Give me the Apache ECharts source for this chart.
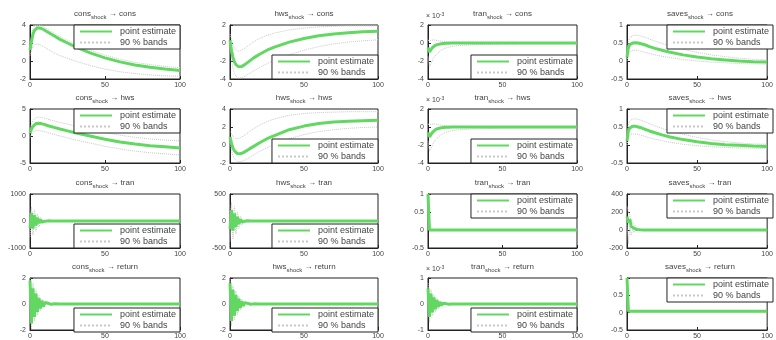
<!DOCTYPE html>
<html>
<head>
<meta charset="utf-8">
<script src="https://cdn.jsdelivr.net/npm/echarts@6/dist/echarts.min.js"></script>
<style>
  html, body { margin: 0; padding: 0; background: #fff; }
  #chart { width: 776px; height: 340px; }
</style>
</head>
<body>
<div id="chart"></div>
<script>
const steps = [0, 1, 2, 3, 4, 5, 6, 7, 8, 9, 10, 12, 14, 16, 20, 25, 30, 40, 50, 60, 70, 80, 90, 100];

const shocks = ['cons', 'hws', 'tran', 'saves'];
const responses = ['cons', 'hws', 'tran', 'return'];

// row 1: -> cons
const est_cons_cons = [1.2, 2.2, 3.0, 3.4, 3.6, 3.7, 3.7, 3.65, 3.6, 3.5, 3.4, 3.2, 3.0, 2.8, 2.4, 2.0, 1.6, 0.9, 0.35, -0.1, -0.45, -0.7, -0.9, -1.05];
const lo_cons_cons = [0.6, 1.2, 1.6, 1.8, 1.9, 1.9, 1.85, 1.8, 1.7, 1.6, 1.5, 1.3, 1.1, 0.9, 0.6, 0.3, 0.0, -0.5, -0.9, -1.2, -1.4, -1.55, -1.65, -1.7];
const hi_cons_cons = [1.6, 2.8, 3.6, 3.9, 4.0, 4.0, 4.0, 3.95, 3.9, 3.8, 3.7, 3.5, 3.3, 3.1, 2.7, 2.3, 1.9, 1.2, 0.65, 0.2, -0.15, -0.4, -0.6, -0.75];

const est_hws_cons = [0.3, -0.8, -1.6, -2.1, -2.4, -2.55, -2.65, -2.65, -2.6, -2.5, -2.4, -2.15, -1.9, -1.65, -1.25, -0.8, -0.45, 0.1, 0.5, 0.8, 1.0, 1.15, 1.25, 1.3];
const lo_hws_cons = [-0.3, -1.8, -2.8, -3.4, -3.7, -3.85, -3.9, -3.9, -3.85, -3.8, -3.7, -3.5, -3.3, -3.1, -2.7, -2.3, -1.9, -1.3, -0.8, -0.4, -0.1, 0.1, 0.25, 0.35];
const hi_hws_cons = [1.0, 0.4, -0.2, -0.6, -0.8, -0.9, -0.9, -0.85, -0.8, -0.7, -0.6, -0.35, -0.1, 0.15, 0.5, 0.85, 1.1, 1.45, 1.65, 1.8, 1.85, 1.9, 1.9, 1.9];

const est_tran_cons = [-0.5, -1.0, -0.8, -0.5, -0.35, -0.25, -0.2, -0.15, -0.1, -0.08, -0.05, -0.03, -0.02, -0.01, 0, 0, 0, 0, 0, 0, 0, 0, 0, 0];
const lo_tran_cons = [-1.5, -2.6, -2.3, -1.9, -1.6, -1.4, -1.2, -1.05, -0.9, -0.8, -0.7, -0.55, -0.45, -0.38, -0.3, -0.25, -0.2, -0.15, -0.12, -0.1, -0.1, -0.1, -0.1, -0.1];
const hi_tran_cons = [0.3, 0.2, 0.3, 0.35, 0.35, 0.3, 0.28, 0.25, 0.22, 0.2, 0.18, 0.15, 0.12, 0.1, 0.08, 0.07, 0.06, 0.05, 0.05, 0.05, 0.05, 0.05, 0.05, 0.05];

const est_saves_cons = [0.1, 0.38, 0.45, 0.48, 0.5, 0.51, 0.51, 0.51, 0.5, 0.49, 0.48, 0.46, 0.43, 0.4, 0.35, 0.3, 0.25, 0.17, 0.11, 0.06, 0.03, 0.0, -0.02, -0.03];
const lo_saves_cons = [0.0, 0.2, 0.25, 0.28, 0.3, 0.3, 0.3, 0.3, 0.29, 0.28, 0.27, 0.25, 0.23, 0.21, 0.17, 0.13, 0.1, 0.04, 0.0, -0.03, -0.05, -0.07, -0.08, -0.09];
const hi_saves_cons = [0.2, 0.55, 0.65, 0.68, 0.7, 0.71, 0.72, 0.72, 0.71, 0.7, 0.69, 0.67, 0.64, 0.61, 0.55, 0.49, 0.43, 0.33, 0.24, 0.17, 0.12, 0.08, 0.05, 0.03];

// row 2: -> hws
const est_cons_hws = [0.5, 1.3, 1.8, 2.1, 2.3, 2.35, 2.35, 2.3, 2.25, 2.2, 2.1, 1.9, 1.75, 1.6, 1.3, 0.95, 0.6, 0.0, -0.6, -1.1, -1.5, -1.8, -2.0, -2.2];
const lo_cons_hws = [-0.3, 0.3, 0.7, 0.9, 1.0, 1.0, 1.0, 0.95, 0.9, 0.85, 0.8, 0.6, 0.45, 0.3, 0.0, -0.35, -0.7, -1.3, -1.9, -2.4, -2.8, -3.1, -3.3, -3.5];
const hi_cons_hws = [1.2, 2.2, 2.8, 3.2, 3.4, 3.5, 3.5, 3.45, 3.4, 3.35, 3.3, 3.1, 2.95, 2.8, 2.5, 2.2, 1.85, 1.25, 0.65, 0.15, -0.25, -0.55, -0.75, -0.9];

const est_hws_hws = [0.9, 0.2, -0.35, -0.65, -0.85, -0.95, -1.0, -0.97, -0.92, -0.85, -0.75, -0.55, -0.35, -0.15, 0.25, 0.7, 1.05, 1.7, 2.1, 2.4, 2.55, 2.65, 2.7, 2.75];
const lo_hws_hws = [0.3, -0.6, -1.2, -1.5, -1.7, -1.8, -1.85, -1.85, -1.8, -1.75, -1.7, -1.5, -1.3, -1.1, -0.7, -0.3, 0.05, 0.7, 1.15, 1.5, 1.7, 1.85, 1.95, 2.0];
const hi_hws_hws = [1.5, 1.4, 1.0, 0.8, 0.7, 0.7, 0.75, 0.8, 0.9, 1.0, 1.1, 1.35, 1.6, 1.8, 2.2, 2.6, 2.9, 3.3, 3.5, 3.6, 3.65, 3.7, 3.7, 3.7];

const est_tran_hws = [-0.6, -1.1, -0.9, -0.6, -0.4, -0.3, -0.22, -0.16, -0.12, -0.09, -0.06, -0.04, -0.02, -0.01, 0, 0, 0, 0, 0, 0, 0, 0, 0, 0];
const lo_tran_hws = [-1.6, -2.7, -2.4, -2.0, -1.7, -1.45, -1.25, -1.1, -0.95, -0.85, -0.75, -0.6, -0.5, -0.4, -0.32, -0.26, -0.22, -0.17, -0.13, -0.11, -0.1, -0.1, -0.1, -0.1];
const hi_tran_hws = [0.3, 0.2, 0.3, 0.35, 0.35, 0.3, 0.28, 0.25, 0.22, 0.2, 0.18, 0.15, 0.12, 0.1, 0.08, 0.07, 0.06, 0.05, 0.05, 0.05, 0.05, 0.05, 0.05, 0.05];

const est_saves_hws = [0.12, 0.4, 0.47, 0.5, 0.52, 0.52, 0.52, 0.51, 0.5, 0.49, 0.48, 0.45, 0.42, 0.39, 0.34, 0.28, 0.23, 0.15, 0.09, 0.04, 0.01, -0.01, -0.03, -0.04];
const lo_saves_hws = [0.0, 0.22, 0.27, 0.3, 0.31, 0.31, 0.31, 0.3, 0.29, 0.28, 0.27, 0.25, 0.22, 0.2, 0.16, 0.12, 0.08, 0.02, -0.02, -0.05, -0.07, -0.08, -0.09, -0.1];
const hi_saves_hws = [0.22, 0.58, 0.67, 0.7, 0.72, 0.73, 0.73, 0.72, 0.71, 0.7, 0.69, 0.66, 0.62, 0.59, 0.53, 0.46, 0.4, 0.3, 0.21, 0.14, 0.09, 0.06, 0.03, 0.02];

// row 3: -> tran
const est_cons_tran = [-250, 300, -280, 220, -170, 120, -80, 50, -30, 20, -10, 5, -2, 1, 0, 0, 0, 0, 0, 0, 0, 0, 0, 0];
const lo_cons_tran = [-600, 120, -520, 60, -380, 0, -220, -20, -120, -10, -60, -20, -10, -5, -2, 0, 0, 0, 0, 0, 0, 0, 0, 0];
const hi_cons_tran = [100, 520, -60, 420, -20, 260, 40, 130, 30, 60, 20, 25, 10, 6, 2, 0, 0, 0, 0, 0, 0, 0, 0, 0];

const est_hws_tran = [-150, 200, -180, 140, -110, 80, -55, 35, -20, 12, -6, 3, -1, 0, 0, 0, 0, 0, 0, 0, 0, 0, 0, 0];
const lo_hws_tran = [-380, 60, -340, 20, -240, -10, -140, -20, -80, -10, -40, -15, -8, -4, -1, 0, 0, 0, 0, 0, 0, 0, 0, 0];
const hi_hws_tran = [80, 340, -30, 270, -10, 170, 30, 90, 30, 40, 15, 15, 6, 3, 1, 0, 0, 0, 0, 0, 0, 0, 0, 0];

const est_tran_tran = [1, 0, 0, 0, 0, 0, 0, 0, 0, 0, 0, 0, 0, 0, 0, 0, 0, 0, 0, 0, 0, 0, 0, 0];
const lo_tran_tran = [1, 0, 0, 0, 0, 0, 0, 0, 0, 0, 0, 0, 0, 0, 0, 0, 0, 0, 0, 0, 0, 0, 0, 0];
const hi_tran_tran = [1, 0, 0, 0, 0, 0, 0, 0, 0, 0, 0, 0, 0, 0, 0, 0, 0, 0, 0, 0, 0, 0, 0, 0];

const est_saves_tran = [150, 80, 120, 40, 60, 20, 25, 5, 10, 3, 3, 1, 0, 0, 0, 0, 0, 0, 0, 0, 0, 0, 0, 0];
const lo_saves_tran = [60, -150, 40, -60, 10, -30, 0, -15, -2, -6, -2, -1, 0, 0, 0, 0, 0, 0, 0, 0, 0, 0, 0, 0];
const hi_saves_tran = [260, 200, 210, 110, 120, 60, 55, 25, 25, 12, 8, 4, 1, 0, 0, 0, 0, 0, 0, 0, 0, 0, 0, 0];

// row 4: -> return
const est_cons_return = [1.8, -1.5, 1.2, -1.0, 0.8, -0.6, 0.45, -0.35, 0.25, -0.18, 0.12, 0.06, -0.03, 0.02, 0, 0, 0, 0, 0, 0, 0, 0, 0, 0];
const lo_cons_return = [1.2, -1.9, 0.8, -1.3, 0.5, -0.85, 0.25, -0.5, 0.12, -0.28, 0.05, 0.0, -0.06, -0.01, 0, 0, 0, 0, 0, 0, 0, 0, 0, 0];
const hi_cons_return = [2.0, -1.0, 1.6, -0.7, 1.1, -0.35, 0.65, -0.2, 0.38, -0.08, 0.2, 0.1, 0.0, 0.04, 0, 0, 0, 0, 0, 0, 0, 0, 0, 0];

const est_hws_return = [1.6, -1.3, 1.1, -0.9, 0.7, -0.55, 0.4, -0.3, 0.22, -0.15, 0.1, 0.05, -0.02, 0.01, 0, 0, 0, 0, 0, 0, 0, 0, 0, 0];
const lo_hws_return = [1.1, -1.7, 0.7, -1.2, 0.45, -0.8, 0.22, -0.45, 0.1, -0.25, 0.04, 0.0, -0.05, -0.01, 0, 0, 0, 0, 0, 0, 0, 0, 0, 0];
const hi_hws_return = [1.9, -0.9, 1.4, -0.6, 1.0, -0.3, 0.6, -0.15, 0.35, -0.06, 0.18, 0.09, 0.0, 0.03, 0, 0, 0, 0, 0, 0, 0, 0, 0, 0];

const est_tran_return = [0.6, -0.5, 0.4, -0.32, 0.25, -0.2, 0.15, -0.11, 0.08, -0.05, 0.03, 0.015, -0.01, 0, 0, 0, 0, 0, 0, 0, 0, 0, 0, 0];
const lo_tran_return = [0.4, -0.7, 0.25, -0.45, 0.15, -0.3, 0.08, -0.18, 0.04, -0.09, 0.01, 0.0, -0.02, 0, 0, 0, 0, 0, 0, 0, 0, 0, 0, 0];
const hi_tran_return = [0.8, -0.3, 0.55, -0.2, 0.35, -0.1, 0.22, -0.05, 0.12, -0.02, 0.05, 0.03, 0.0, 0, 0, 0, 0, 0, 0, 0, 0, 0, 0, 0];

const est_saves_return = [1.0, 0.05, 0.04, 0.04, 0.04, 0.04, 0.04, 0.04, 0.04, 0.04, 0.04, 0.04, 0.04, 0.04, 0.04, 0.04, 0.04, 0.04, 0.04, 0.04, 0.04, 0.04, 0.04, 0.04];
const lo_saves_return = [1.0, 0.02, 0.02, 0.02, 0.02, 0.02, 0.02, 0.02, 0.02, 0.02, 0.02, 0.02, 0.02, 0.02, 0.02, 0.02, 0.02, 0.02, 0.02, 0.02, 0.02, 0.02, 0.02, 0.02];
const hi_saves_return = [1.0, 0.07, 0.06, 0.06, 0.06, 0.06, 0.06, 0.06, 0.06, 0.06, 0.06, 0.06, 0.06, 0.06, 0.06, 0.06, 0.06, 0.06, 0.06, 0.06, 0.06, 0.06, 0.06, 0.06];

// y-axis ranges per panel, row by row: [min, max, interval]
const yRanges = [
  [[-2, 4, 2], [-4, 2, 2], [-4, 2, 2], [-0.5, 1, 0.5]],
  [[-5, 5, 5], [-2, 4, 2], [-4, 2, 2], [-0.5, 1, 0.5]],
  [[-1000, 1000, 1000], [-500, 500, 500], [-0.5, 1, 0.5], [-200, 400, 200]],
  [[-2, 2, 2], [-2, 2, 2], [-1, 1, 1], [-0.5, 1, 0.5]],
];
// panels whose values are in units of 10^-3
const scaledPanels = ['tran_cons', 'tran_hws', 'tran_return'];
// legend placement: 't' top right, 'b' bottom right
const legendPlaces = [
  ['t', 'b', 'b', 't'],
  ['t', 'b', 'b', 't'],
  ['b', 'b', 't', 't'],
  ['b', 'b', 'b', 't'],
];

const seriesData = {
  cons_cons: [est_cons_cons, lo_cons_cons, hi_cons_cons],
  hws_cons: [est_hws_cons, lo_hws_cons, hi_hws_cons],
  tran_cons: [est_tran_cons, lo_tran_cons, hi_tran_cons],
  saves_cons: [est_saves_cons, lo_saves_cons, hi_saves_cons],
  cons_hws: [est_cons_hws, lo_cons_hws, hi_cons_hws],
  hws_hws: [est_hws_hws, lo_hws_hws, hi_hws_hws],
  tran_hws: [est_tran_hws, lo_tran_hws, hi_tran_hws],
  saves_hws: [est_saves_hws, lo_saves_hws, hi_saves_hws],
  cons_tran: [est_cons_tran, lo_cons_tran, hi_cons_tran],
  hws_tran: [est_hws_tran, lo_hws_tran, hi_hws_tran],
  tran_tran: [est_tran_tran, lo_tran_tran, hi_tran_tran],
  saves_tran: [est_saves_tran, lo_saves_tran, hi_saves_tran],
  cons_return: [est_cons_return, lo_cons_return, hi_cons_return],
  hws_return: [est_hws_return, lo_hws_return, hi_hws_return],
  tran_return: [est_tran_return, lo_tran_return, hi_tran_return],
  saves_return: [est_saves_return, lo_saves_return, hi_saves_return],
};

const colLeft = [30, 230, 428, 627];
const colWidth = [150, 148, 149, 146];
const rowTop = [25, 109, 194, 278];
const rowHeight = 54;

const grid = [];
const xAxis = [];
const yAxis = [];
const series = [];
const legend = [];
const graphic = [];

const textColor = '#444';
const font = 'Liberation Sans';
const estColor = '#62d862';
const bandColor = '#c8c8c8';
const pairs = (arr) => steps.map((t, k) => [t, arr[k]]);

responses.forEach((resp, r) => {
  shocks.forEach((shock, c) => {
    const idx = grid.length;
    const key = shock + '_' + resp;
    const [est, lo, hi] = seriesData[key];
    const [yMin, yMax, yStep] = yRanges[r][c];
    const left = colLeft[c];
    const top = rowTop[r];
    const width = colWidth[c];

    grid.push({
      left, top, width, height: rowHeight,
      show: true, borderColor: '#222', borderWidth: 1, backgroundColor: '#fff',
    });
    xAxis.push({
      gridIndex: idx, type: 'value', min: 0, max: 100, interval: 50,
      axisLine: { onZero: false, lineStyle: { color: '#222' } },
      axisTick: { inside: true, length: 3, lineStyle: { color: '#222' } },
      axisLabel: { fontSize: 7, color: textColor, margin: 3, fontFamily: font },
      splitLine: { show: false },
    });
    yAxis.push({
      gridIndex: idx, type: 'value', min: yMin, max: yMax, interval: yStep,
      axisLine: { show: true, onZero: false, lineStyle: { color: '#222' } },
      axisTick: { inside: true, length: 3, lineStyle: { color: '#222' } },
      axisLabel: { fontSize: 7, color: textColor, margin: 4, fontFamily: font, formatter: (v) => String(v) },
      splitLine: { show: false },
    });

    [lo, hi].forEach((band) => {
      series.push({
        name: '90 % bands', type: 'line', xAxisIndex: idx, yAxisIndex: idx,
        data: pairs(band), symbol: 'none', silent: true, animation: false,
        lineStyle: { color: bandColor, width: 1, type: 'dotted' },
        itemStyle: { color: bandColor }, z: 2,
      });
    });
    series.push({
      name: 'point estimate', type: 'line', xAxisIndex: idx, yAxisIndex: idx,
      data: pairs(est), symbol: 'none', silent: true, animation: false,
      lineStyle: { color: estColor, width: 3 },
      itemStyle: { color: estColor }, z: 3,
    });

    // panel title with subscripted shock name
    graphic.push({
      type: 'text', x: left + width / 2, y: top - 15, z: 10,
      style: {
        text: '{n|' + shock + '}{s|shock}{n| \u2192 ' + resp + '}',
        align: 'center',
        rich: {
          n: { fontSize: 8, fill: textColor, fontFamily: font, lineHeight: 10, padding: [0, 0, 4, 0], verticalAlign: 'top' },
          s: { fontSize: 6, fill: textColor, fontFamily: font, lineHeight: 7, verticalAlign: 'bottom' },
        },
      },
    });

    const place = legendPlaces[r][c];
    const lg = {
      data: ['point estimate', '90 % bands'], orient: 'vertical',
      right: 776 - (left + width), selectedMode: false,
      backgroundColor: '#fff', borderColor: '#222', borderWidth: 1, borderRadius: 0,
      padding: [2, 4, 2, 5], itemGap: 2, itemWidth: 32, itemHeight: 9,
      itemStyle: { opacity: 0 },
      textStyle: { fontSize: 9, color: textColor, fontFamily: font, padding: [0, 0, 0, 3] },
      z: 5,
    };
    if (place === 't') lg.top = top; else lg.bottom = 340 - (top + rowHeight);
    legend.push(lg);

    if (scaledPanels.indexOf(key) >= 0) {
      graphic.push({
        type: 'text', x: left - 2, y: top - 13, z: 10,
        style: {
          text: '{n|\u00d7 10}{p|-3}',
          rich: {
            n: { fontSize: 7, fill: textColor, fontFamily: font, lineHeight: 8, padding: [3, 0, 0, 0], verticalAlign: 'bottom' },
            p: { fontSize: 5, fill: textColor, fontFamily: font, lineHeight: 6, verticalAlign: 'top' },
          },
        },
      });
    }
  });
});

const chart = echarts.init(document.getElementById('chart'), null, { renderer: 'canvas' });
chart.setOption({
  animation: false,
  backgroundColor: '#fff',
  legend, grid, xAxis, yAxis, series, graphic,
});
</script>
</body>
</html>
